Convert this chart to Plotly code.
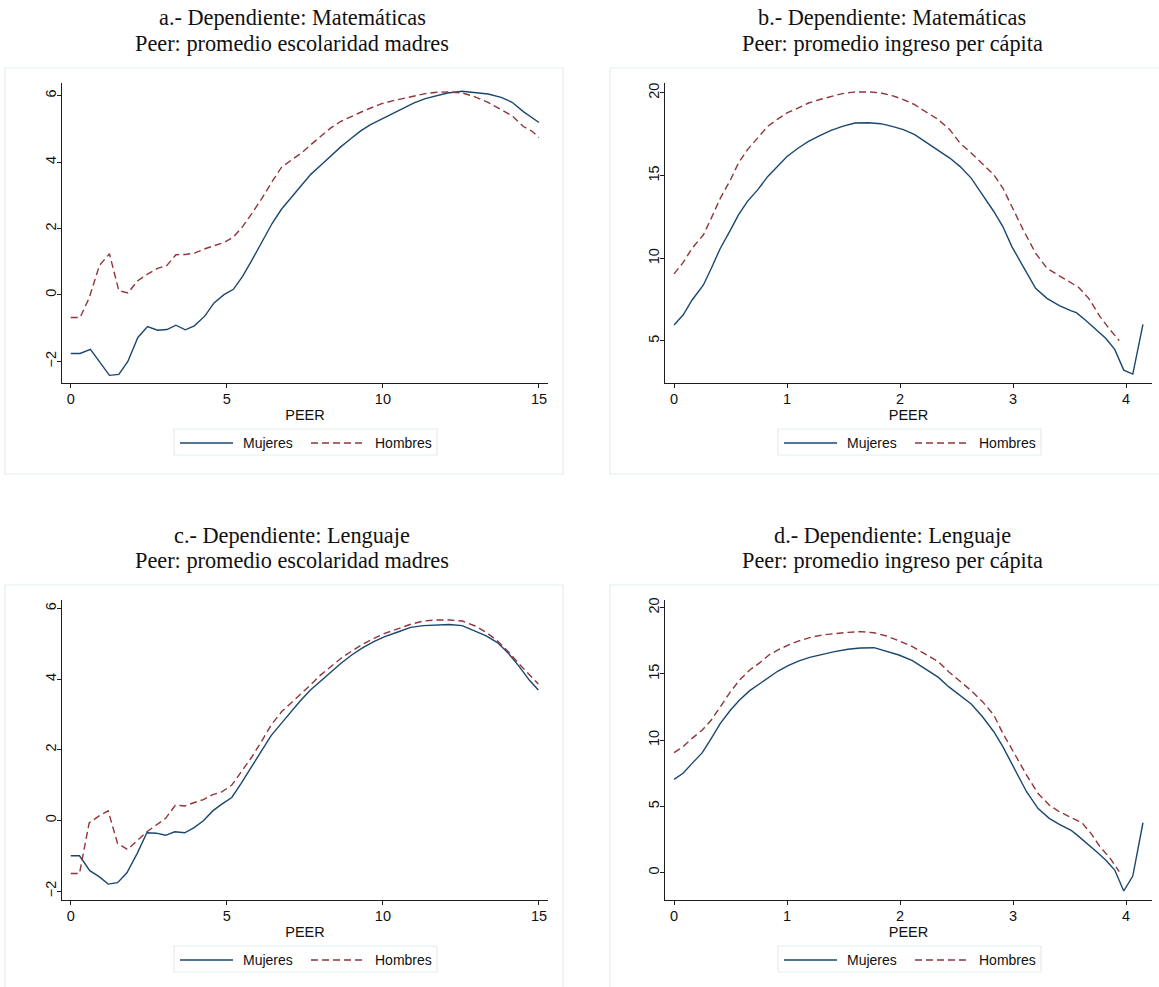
import plotly.graph_objects as go

W, H = 1159, 987

NAVY = "#1a476f"
MAROON = "#90353b"
AXIS = "#1e1e1e"
FRAME = "#e3edf0"

# ---------------- a.- Matemáticas / escolaridad madres ----------------
a_x_muj = [0, 0.3, 0.63, 0.95, 1.24, 1.54, 1.83, 2.15, 2.46, 2.78, 3.08, 3.37, 3.67, 3.96,
           4.3, 4.59, 4.91, 5.21, 5.5, 5.8, 6.12, 6.45, 6.75, 7.1, 7.4, 7.69, 8.02, 8.32,
           8.64, 8.97, 9.29, 9.59, 9.94, 10.3, 10.65, 11.0, 11.36, 11.72, 12.07, 12.54,
           12.9, 13.37, 13.79, 14.14, 14.5, 14.79, 15.0]
a_y_muj = [-1.76, -1.76, -1.64, -2.04, -2.42, -2.39, -2.0, -1.28, -0.95, -1.06, -1.04, -0.91,
           -1.05, -0.93, -0.63, -0.24, 0.01, 0.17, 0.55, 1.04, 1.58, 2.15, 2.58, 2.97, 3.31,
           3.63, 3.91, 4.18, 4.45, 4.70, 4.94, 5.12, 5.29, 5.45, 5.62, 5.78, 5.91, 6.0, 6.08,
           6.13, 6.10, 6.05, 5.95, 5.80, 5.52, 5.32, 5.19]
a_x_hom = [0, 0.3, 0.59, 0.92, 1.24, 1.54, 1.83, 2.15, 2.46, 2.78, 3.08, 3.37, 3.67, 3.96,
           4.3, 4.59, 4.91, 5.21, 5.5, 5.8, 6.12, 6.45, 6.75, 7.1, 7.4, 7.69, 8.02, 8.32,
           8.64, 8.97, 9.29, 9.59, 9.94, 10.3, 10.65, 11.0, 11.36, 11.72, 12.07, 12.54,
           12.9, 13.37, 13.79, 14.14, 14.5, 14.79, 15.0]
a_y_hom = [-0.68, -0.68, -0.09, 0.89, 1.24, 0.13, 0.06, 0.43, 0.63, 0.80, 0.89, 1.21, 1.22,
           1.26, 1.39, 1.49, 1.58, 1.74, 2.05, 2.45, 2.90, 3.41, 3.84, 4.08, 4.28, 4.52, 4.79,
           5.02, 5.22, 5.37, 5.50, 5.62, 5.75, 5.84, 5.91, 6.0, 6.06, 6.10, 6.11, 6.08, 5.98,
           5.80, 5.59, 5.39, 5.07, 4.92, 4.74]

# ---------------- b.- Matemáticas / ingreso per cápita ----------------
b_x_muj = [0, 0.08, 0.16, 0.26, 0.33, 0.41, 0.5, 0.57, 0.65, 0.74, 0.83, 0.92, 1.0, 1.1,
           1.19, 1.29, 1.39, 1.49, 1.6, 1.72, 1.83, 1.93, 2.03, 2.13, 2.22, 2.34, 2.44, 2.53,
           2.63, 2.73, 2.83, 2.91, 2.99, 3.09, 3.2, 3.3, 3.41, 3.51, 3.56, 3.64, 3.74, 3.82,
           3.90, 3.98, 4.06, 4.15]
b_y_muj = [5.97, 6.57, 7.48, 8.39, 9.4, 10.61, 11.72, 12.63, 13.44, 14.14, 14.95, 15.56, 16.16,
           16.67, 17.07, 17.42, 17.74, 17.98, 18.18, 18.20, 18.14, 17.98, 17.78, 17.48, 17.07,
           16.57, 16.06, 15.56, 14.85, 13.84, 12.83, 11.92, 10.71, 9.5, 8.19, 7.58, 7.14, 6.84,
           6.71, 6.27, 5.67, 5.16, 4.49, 3.24, 3.0, 6.01]
b_x_hom = [0, 0.08, 0.16, 0.26, 0.33, 0.41, 0.5, 0.57, 0.65, 0.74, 0.83, 0.92, 1.0, 1.1,
           1.19, 1.29, 1.39, 1.49, 1.6, 1.72, 1.83, 1.93, 2.03, 2.13, 2.22, 2.34, 2.44, 2.53,
           2.63, 2.73, 2.83, 2.91, 2.99, 3.09, 3.2, 3.3, 3.41, 3.51, 3.58, 3.67, 3.77, 3.86,
           3.94]
b_y_hom = [9.06, 9.74, 10.61, 11.42, 12.43, 13.64, 14.75, 15.76, 16.57, 17.27, 17.98, 18.43,
           18.79, 19.09, 19.39, 19.6, 19.8, 19.96, 20.06, 20.06, 20.0, 19.84, 19.6, 19.29,
           18.89, 18.38, 17.78, 16.97, 16.37, 15.72, 15.05, 14.25, 13.14, 11.72, 10.31, 9.4,
           8.94, 8.53, 8.25, 7.58, 6.47, 5.67, 5.02]

# ---------------- c.- Lenguaje / escolaridad madres ----------------
c_x_muj = [0, 0.28, 0.61, 0.91, 1.2, 1.5, 1.8, 2.13, 2.44, 2.74, 3.04, 3.33, 3.65, 3.94,
           4.25, 4.55, 4.84, 5.16, 5.46, 5.79, 6.11, 6.42, 6.76, 7.05, 7.35, 7.68, 8.0, 8.33,
           8.65, 9.0, 9.36, 9.71, 10.06, 10.48, 10.89, 11.3, 11.72, 12.13, 12.54, 12.96,
           13.31, 13.67, 14.02, 14.37, 14.69, 14.98]
c_y_muj = [-1.0, -1.0, -1.42, -1.59, -1.80, -1.76, -1.48, -0.93, -0.35, -0.36, -0.42, -0.32,
           -0.35, -0.21, -0.01, 0.27, 0.46, 0.65, 1.05, 1.52, 1.94, 2.40, 2.76, 3.08, 3.38,
           3.69, 3.94, 4.21, 4.44, 4.68, 4.89, 5.06, 5.20, 5.33, 5.46, 5.51, 5.53, 5.54, 5.51,
           5.36, 5.22, 5.03, 4.73, 4.35, 3.97, 3.69]
c_x_hom = [0, 0.28, 0.59, 0.91, 1.2, 1.5, 1.82, 2.13, 2.44, 2.74, 3.04, 3.35, 3.65, 3.94,
           4.25, 4.55, 4.84, 5.16, 5.46, 5.79, 6.11, 6.42, 6.76, 7.05, 7.35, 7.68, 8.0, 8.33,
           8.65, 9.0, 9.36, 9.71, 10.06, 10.48, 10.89, 11.3, 11.72, 12.13, 12.54, 12.96,
           13.31, 13.67, 14.02, 14.37, 14.69, 14.98]
c_y_hom = [-1.5, -1.5, -0.07, 0.13, 0.27, -0.65, -0.82, -0.58, -0.32, -0.13, 0.06, 0.43, 0.41,
           0.50, 0.59, 0.73, 0.81, 1.0, 1.38, 1.78, 2.23, 2.70, 3.08, 3.31, 3.55, 3.83, 4.11,
           4.35, 4.58, 4.79, 4.99, 5.15, 5.29, 5.42, 5.55, 5.64, 5.67, 5.67, 5.64, 5.50, 5.32,
           5.08, 4.77, 4.42, 4.11, 3.86]

# ---------------- d.- Lenguaje / ingreso per cápita ----------------
d_x_muj = [0, 0.08, 0.16, 0.25, 0.33, 0.41, 0.5, 0.58, 0.67, 0.76, 0.84, 0.92, 1.01, 1.1,
           1.2, 1.31, 1.42, 1.54, 1.65, 1.77, 1.88, 1.99, 2.11, 2.22, 2.34, 2.43, 2.53, 2.63,
           2.73, 2.83, 2.91, 3.01, 3.12, 3.22, 3.32, 3.41, 3.51, 3.56, 3.64, 3.74, 3.82, 3.9,
           3.98, 4.06, 4.15]
d_y_muj = [7.04, 7.5, 8.25, 9.06, 10.14, 11.27, 12.28, 13.03, 13.74, 14.29, 14.79, 15.22,
           15.62, 15.97, 16.25, 16.48, 16.68, 16.86, 16.96, 16.98, 16.73, 16.43, 16.0, 15.42,
           14.74, 14.04, 13.41, 12.73, 11.77, 10.64, 9.51, 7.87, 6.11, 4.86, 4.1, 3.65, 3.22,
           2.89, 2.34, 1.58, 0.96, 0.2, -1.38, -0.25, 3.77]
d_x_hom = [0, 0.08, 0.16, 0.25, 0.33, 0.41, 0.5, 0.58, 0.67, 0.76, 0.84, 0.92, 1.01, 1.1,
           1.2, 1.31, 1.42, 1.54, 1.65, 1.77, 1.88, 1.99, 2.11, 2.22, 2.34, 2.43, 2.53, 2.63,
           2.73, 2.83, 2.91, 3.01, 3.12, 3.22, 3.32, 3.41, 3.51, 3.61, 3.69, 3.77, 3.86, 3.94]
d_y_hom = [9.06, 9.51, 10.14, 10.77, 11.52, 12.53, 13.66, 14.54, 15.3, 15.85, 16.43, 16.81,
           17.18, 17.48, 17.74, 17.94, 18.06, 18.14, 18.19, 18.11, 17.86, 17.51, 17.06, 16.5,
           15.92, 15.17, 14.42, 13.74, 12.91, 11.9, 10.52, 9.01, 7.37, 5.99, 5.11, 4.6, 4.18,
           3.77, 2.97, 1.96, 1.08, 0.08]

titles = [
    ("a.- Dependiente: Matemáticas", "Peer: promedio escolaridad madres"),
    ("b.- Dependiente: Matemáticas", "Peer: promedio ingreso per cápita"),
    ("c.- Dependiente: Lenguaje", "Peer: promedio escolaridad madres"),
    ("d.- Dependiente: Lenguaje", "Peer: promedio ingreso per cápita"),
]
series_names = ["Mujeres", "Hombres"]
x_ticks_escol = [0, 5, 10, 15]
x_ticks_ingreso = [0, 1, 2, 3, 4]
y_ticks_escol = [-2, 0, 2, 4, 6]
y_ticks_ingreso_mat = [5, 10, 15, 20]
y_ticks_ingreso_len = [0, 5, 10, 15, 20]


def px(x):
    return x / W


def py(y):
    return 1 - y / H


# pixel layout of each panel: plot box (left, right, top, bottom), frame box, offsets
panels = [
    dict(data=(a_x_muj, a_y_muj, a_x_hom, a_y_hom), plot=(62, 548, 83, 383),
         xr=[-0.28, 15.29], yr=[-2.65, 6.38], xt=x_ticks_escol, yt=y_ticks_escol,
         frame=(5, 563, 68, 474), dx=0, dy=0, tcx=292),
    dict(data=(b_x_muj, b_y_muj, b_x_hom, b_y_hom), plot=(665, 1152, 83, 383),
         xr=[-0.08, 4.23], yr=[2.46, 20.6], xt=x_ticks_ingreso, yt=y_ticks_ingreso_mat,
         frame=(610, 1168, 68, 474), dx=604, dy=0, tcx=892),
    dict(data=(c_x_muj, c_y_muj, c_x_hom, c_y_hom), plot=(62, 548, 600, 900),
         xr=[-0.28, 15.29], yr=[-2.25, 6.235], xt=x_ticks_escol, yt=y_ticks_escol,
         frame=(5, 563, 585, 991), dx=0, dy=517, tcx=292),
    dict(data=(d_x_muj, d_y_muj, d_x_hom, d_y_hom), plot=(665, 1152, 600, 900),
         xr=[-0.08, 4.23], yr=[-2.06, 20.58], xt=x_ticks_ingreso, yt=y_ticks_ingreso_len,
         frame=(610, 1168, 585, 991), dx=604, dy=517, tcx=892),
]

fig = go.Figure()
shapes = []
annotations = []
SANS = "Liberation Sans, Arial, sans-serif"
tick_font = dict(family=SANS, size=14.5, color="#111")

for i, p in enumerate(panels):
    n = "" if i == 0 else str(i + 1)
    xm, ym, xh, yh = p["data"]
    fig.add_trace(go.Scatter(x=xm, y=ym, mode="lines", name=series_names[0],
                             line=dict(color=NAVY, width=1.4), xaxis="x" + n, yaxis="y" + n,
                             showlegend=False))
    fig.add_trace(go.Scatter(x=xh, y=yh, mode="lines", name=series_names[1],
                             line=dict(color=MAROON, width=1.4, dash="7px,4px"),
                             xaxis="x" + n, yaxis="y" + n, showlegend=False))
    l, r, t, b = p["plot"]
    common = dict(showline=True, linecolor=AXIS, linewidth=1, ticks="outside", ticklen=4,
                  tickwidth=1, tickcolor=AXIS, showgrid=False, zeroline=False,
                  tickfont=tick_font, automargin=False, fixedrange=True)
    fig.update_layout(**{
        "xaxis" + n: dict(domain=[px(l), px(r)], range=p["xr"], tickvals=p["xt"],
                          anchor="y" + n, ticklabelstandoff=-1,
                          title=dict(text="PEER", standoff=3,
                                     font=dict(family=SANS, size=14.5, color="#111")),
                          **common),
        "yaxis" + n: dict(domain=[py(b), py(t)], range=p["yr"], tickvals=p["yt"],
                          anchor="x" + n, tickangle=-90, ticklabelstandoff=-5, **common),
    })

    # outer graph region frame
    fl, fr, ft, fb = p["frame"]
    shapes.append(dict(type="rect", xref="paper", yref="paper", x0=px(fl), x1=px(fr),
                       y0=py(fb), y1=py(ft), line=dict(color=FRAME, width=1.2),
                       fillcolor="rgba(0,0,0,0)", layer="below"))

    # two-line title
    for txt, yy in zip(titles[i], (18, 43)):
        annotations.append(dict(text=txt, xref="paper", yref="paper", x=px(p["tcx"]),
                                y=py(yy + p["dy"]), xanchor="center", yanchor="middle",
                                showarrow=False,
                                font=dict(family="Liberation Serif, Times New Roman, serif",
                                          size=22.3, color="#111")))

    # legend box with line keys
    dx, dy = p["dx"], p["dy"]
    shapes.append(dict(type="rect", xref="paper", yref="paper", x0=px(174 + dx),
                       x1=px(437 + dx), y0=py(455 + dy), y1=py(429 + dy),
                       line=dict(color=FRAME, width=1.2), fillcolor="white"))
    shapes.append(dict(type="line", xref="paper", yref="paper", x0=px(180 + dx),
                       x1=px(233 + dx), y0=py(443 + dy), y1=py(443 + dy),
                       line=dict(color=NAVY, width=1.4)))
    shapes.append(dict(type="line", xref="paper", yref="paper", x0=px(311 + dx),
                       x1=px(365 + dx), y0=py(443 + dy), y1=py(443 + dy),
                       line=dict(color=MAROON, width=1.4, dash="7px,4px")))
    for name, lx in zip(series_names, (241, 373)):
        annotations.append(dict(text=name, xref="paper", yref="paper", x=px(lx + dx),
                                y=py(443 + dy), xanchor="left", yanchor="middle",
                                showarrow=False,
                                font=dict(family=SANS, size=14, color="#111")))

fig.update_layout(
    width=W, height=H, template="none",
    margin=dict(l=0, r=0, t=0, b=0, pad=0),
    paper_bgcolor="white", plot_bgcolor="white",
    showlegend=False, shapes=shapes, annotations=annotations,
)

fig.write_html("out.html", config={"displayModeBar": False})
